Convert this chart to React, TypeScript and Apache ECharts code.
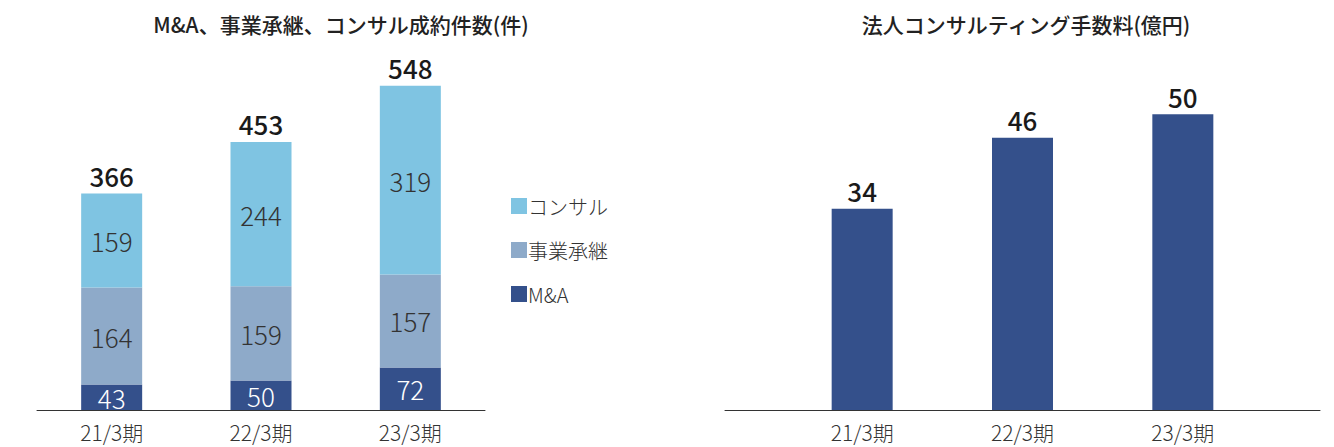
import React, { useEffect, useRef } from "react";
import * as echarts from "echarts";

const periods = ["21/3期", "22/3期", "23/3期"];
const maValues = [43, 50, 72];
const successionValues = [164, 159, 157];
const consultValues = [159, 244, 319];
const feeValues = [34, 46, 50];

const titleLeft = "M&A、事業承継、コンサル成約件数(件)";
const titleRight = "法人コンサルティング手数料(億円)";

const FONT = "'Noto Sans CJK JP', 'Noto Sans', sans-serif";
const C_CONSULT = "#7fc4e2";
const C_SUCC = "#8eaac9";
const C_MA = "#34508b";

export default function App() {
  const ref = useRef<HTMLDivElement>(null);
  useEffect(() => {
    if (!ref.current) return;
    const chart = echarts.init(ref.current, null, { renderer: "svg" });
    const totals = periods.map((_, i) => maValues[i] + successionValues[i] + consultValues[i]);
    const inner = (color: string) => ({
      show: true,
      position: "inside" as const,
      color,
      fontSize: 26,
      fontFamily: FONT,
      fontWeight: 300,
    });
    const topLabel = {
      show: true,
      position: "top" as const,
      distance: 5,
      color: "#1a1a1a",
      fontSize: 26,
      fontFamily: FONT,
      fontWeight: 500,
    };
    const catAxisLabel = {
      color: "#333",
      fontSize: 21,
      fontFamily: FONT,
      fontWeight: 300,
      margin: 11,
    };
    chart.setOption({
      animation: false,
      textStyle: { fontFamily: FONT },
      title: [
        {
          text: titleLeft,
          left: 336,
          top: 8,
          textAlign: "center",
          textStyle: { fontSize: 21, fontWeight: 500, color: "#222", fontFamily: FONT },
        },
        {
          text: titleRight,
          left: 1021,
          top: 8,
          textAlign: "center",
          textStyle: { fontSize: 21, fontWeight: 500, color: "#222", fontFamily: FONT },
        },
      ],
      legend: {
        orient: "vertical",
        left: 506,
        top: 191,
        itemGap: 24,
        itemWidth: 16,
        itemHeight: 16,
        icon: "rect",
        data: ["コンサル", "事業承継", "M&A"],
        textStyle: { fontSize: 20, color: "#333", fontFamily: FONT, fontWeight: 300, padding: [0, 0, 0, -4] },
      },
      grid: [
        { left: 37, right: 849, top: 55, bottom: 37 },
        { left: 782, right: 71, top: 55, bottom: 37 },
        { left: 725, right: 14, top: 55, bottom: 37 },
      ],
      xAxis: [
        {
          type: "category",
          gridIndex: 0,
          data: periods,
          axisLine: { lineStyle: { color: "#333", width: 1 } },
          axisTick: { show: false },
          axisLabel: catAxisLabel,
        },
        {
          type: "category",
          gridIndex: 1,
          data: periods,
          axisLine: { show: false },
          axisTick: { show: false },
          axisLabel: catAxisLabel,
        },
        {
          type: "category",
          gridIndex: 2,
          data: [""],
          axisLine: { lineStyle: { color: "#333", width: 1 } },
          axisTick: { show: false },
          axisLabel: { show: false },
        },
      ],
      yAxis: [
        { type: "value", gridIndex: 0, min: 0, max: 600, show: false },
        { type: "value", gridIndex: 1, min: 0, max: 60, show: false },
        { type: "value", gridIndex: 2, min: 0, max: 60, show: false },
      ],
      series: [
        {
          name: "M&A",
          type: "bar",
          stack: "a",
          xAxisIndex: 0,
          yAxisIndex: 0,
          barWidth: 61,
          data: maValues,
          itemStyle: { color: C_MA },
          label: inner("#fff"),
        },
        {
          name: "事業承継",
          type: "bar",
          stack: "a",
          xAxisIndex: 0,
          yAxisIndex: 0,
          barWidth: 61,
          data: successionValues,
          itemStyle: { color: C_SUCC },
          label: inner("#333"),
        },
        {
          name: "コンサル",
          type: "bar",
          stack: "a",
          xAxisIndex: 0,
          yAxisIndex: 0,
          barWidth: 61,
          data: consultValues,
          itemStyle: { color: C_CONSULT },
          label: inner("#333"),
        },
        {
          name: "合計",
          type: "bar",
          stack: "a",
          xAxisIndex: 0,
          yAxisIndex: 0,
          barWidth: 61,
          data: periods.map(() => 0),
          itemStyle: { color: "transparent" },
          label: { ...topLabel, formatter: (p: any) => String(totals[p.dataIndex]) },
        },
        {
          name: "手数料",
          type: "bar",
          xAxisIndex: 1,
          yAxisIndex: 1,
          barWidth: 61,
          data: feeValues,
          itemStyle: { color: C_MA },
          label: topLabel,
        },
      ],
    });
    return () => chart.dispose();
  }, []);
  return (
    <div
      ref={ref}
      style={{ position: "fixed", left: 0, top: 0, width: 1334, height: 447, background: "#fff" }}
    />
  );
}
